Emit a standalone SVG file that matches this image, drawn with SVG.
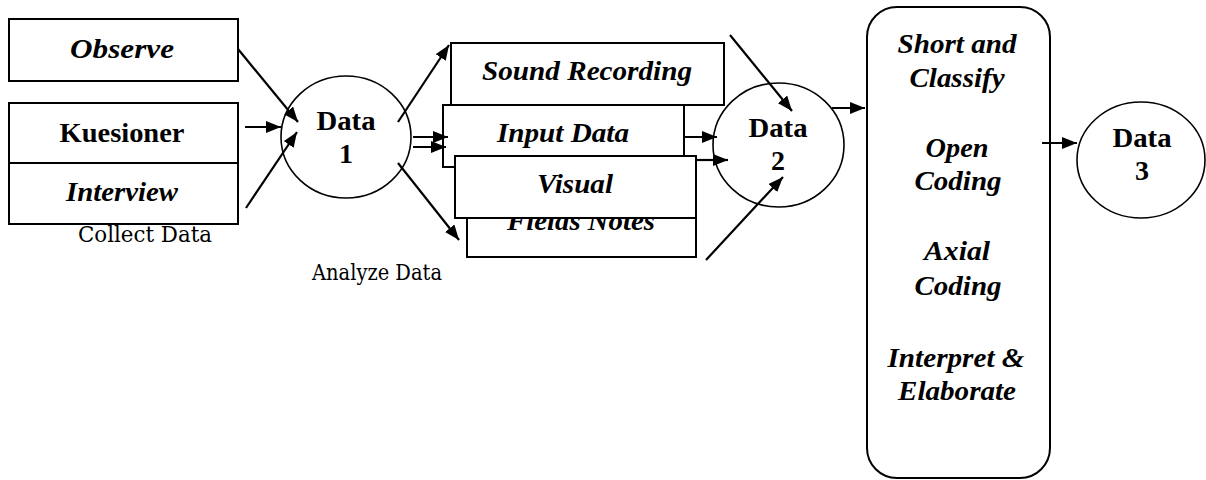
<svg xmlns="http://www.w3.org/2000/svg" width="1206" height="480" viewBox="0 0 1206 480">
  <style>
    .box { fill: #fff; stroke: #000; stroke-width: 2; }
    .circ { fill: #fff; stroke: #000; stroke-width: 1.6; }
    .t { font-family: "Liberation Serif", "Tinos", "Times New Roman", "Nimbus Roman", "FreeSerif", "Noto Serif", Times, serif; font-size: 28px; font-weight: bold; fill: #000; text-anchor: middle; }
    .i { font-style: italic; }
    .lbl { font-family: "DejaVu Serif", serif; font-size: 21.5px; fill: #000; text-anchor: middle; }
    .arr { stroke: #000; stroke-width: 2.2; fill: none; marker-end: url(#head); }
  </style>
  <defs>
    <marker id="head" markerUnits="userSpaceOnUse" markerWidth="16" markerHeight="12" refX="15" refY="6" orient="auto">
      <path d="M0,0 L15,6 L0,12 z" fill="#000"/>
    </marker>
  </defs>
  <rect width="1206" height="480" fill="#fff"/>

  <!-- collection sources -->
  <g id="observe">
    <rect class="box" x="9" y="19" width="229" height="62"/>
    <text class="t i" x="122" y="58" textLength="104" lengthAdjust="spacingAndGlyphs">Observe</text>
  </g>
  <g id="kuesioner">
    <rect class="box" x="9" y="103" width="229" height="60"/>
    <text class="t" x="122" y="142" textLength="125" lengthAdjust="spacingAndGlyphs">Kuesioner</text>
  </g>
  <g id="interview">
    <rect class="box" x="9" y="163" width="229" height="61"/>
    <text class="t i" x="122" y="201" textLength="112" lengthAdjust="spacingAndGlyphs">Interview</text>
  </g>
  <text id="collect-label" class="lbl" x="145" y="242" textLength="134" lengthAdjust="spacingAndGlyphs">Collect Data</text>

  <g id="data1">
    <ellipse class="circ" cx="346" cy="137" rx="65" ry="61"/>
    <text class="t" x="346" y="130" textLength="59" lengthAdjust="spacingAndGlyphs">Data</text>
    <text class="t" x="346" y="163">1</text>
  </g>
  <text id="analyze-label" class="lbl" x="377" y="280" textLength="130" lengthAdjust="spacingAndGlyphs">Analyze Data</text>

  <!-- analysis inputs, stacked -->
  <g id="sound-recording">
    <rect class="box" x="451" y="43" width="273" height="62"/>
    <text class="t i" x="587" y="80" textLength="210" lengthAdjust="spacingAndGlyphs">Sound Recording</text>
  </g>
  <g id="input-data">
    <rect class="box" x="443" y="105" width="241" height="62"/>
    <text class="t i" x="563" y="142" textLength="132" lengthAdjust="spacingAndGlyphs">Input Data</text>
  </g>
  <g id="fields-notes">
    <rect class="box" x="467" y="200" width="229" height="57"/>
    <text class="t i" x="581" y="230" textLength="148" lengthAdjust="spacingAndGlyphs">Fields Notes</text>
  </g>
  <g id="visual">
    <rect class="box" x="455" y="156" width="241" height="62"/>
    <text class="t i" x="575" y="193" textLength="76" lengthAdjust="spacingAndGlyphs">Visual</text>
  </g>

  <g id="data2">
    <ellipse class="circ" cx="778.5" cy="145" rx="65.5" ry="62"/>
    <text class="t" x="778" y="137" textLength="59" lengthAdjust="spacingAndGlyphs">Data</text>
    <text class="t" x="778" y="170">2</text>
  </g>

  <g id="coding">
    <rect class="box" x="867" y="7" width="183" height="471" rx="30" ry="30"/>
    <text class="t i" x="957" y="53" textLength="119" lengthAdjust="spacingAndGlyphs">Short and</text>
    <text class="t i" x="957" y="87" textLength="95" lengthAdjust="spacingAndGlyphs">Classify</text>
    <text class="t i" x="957" y="157" textLength="63" lengthAdjust="spacingAndGlyphs">Open</text>
    <text class="t i" x="958" y="190" textLength="87" lengthAdjust="spacingAndGlyphs">Coding</text>
    <text class="t i" x="957" y="260" textLength="66" lengthAdjust="spacingAndGlyphs">Axial</text>
    <text class="t i" x="958" y="295" textLength="87" lengthAdjust="spacingAndGlyphs">Coding</text>
    <text class="t i" x="956" y="367" textLength="137" lengthAdjust="spacingAndGlyphs">Interpret &amp;</text>
    <text class="t i" x="957" y="400" textLength="118" lengthAdjust="spacingAndGlyphs">Elaborate</text>
  </g>

  <g id="data3">
    <ellipse class="circ" cx="1141" cy="160" rx="64" ry="58"/>
    <text class="t" x="1142" y="147" textLength="59" lengthAdjust="spacingAndGlyphs">Data</text>
    <text class="t" x="1142" y="180">3</text>
  </g>

  <g id="connectors">
    <line class="arr" x1="238" y1="49" x2="298" y2="122"/>
    <line class="arr" x1="245" y1="127" x2="281" y2="127"/>
    <line class="arr" x1="246" y1="208" x2="297" y2="132"/>
    <line class="arr" x1="398" y1="122" x2="449" y2="45"/>
    <line class="arr" x1="413" y1="137" x2="448" y2="137"/>
    <line class="arr" x1="413" y1="147" x2="446" y2="147"/>
    <line class="arr" x1="398" y1="163" x2="459" y2="240"/>
    <line class="arr" x1="684" y1="137" x2="717" y2="137"/>
    <line class="arr" x1="696" y1="160" x2="728" y2="160"/>
    <line class="arr" x1="730" y1="35" x2="792" y2="111"/>
    <line class="arr" x1="706" y1="260" x2="783" y2="177"/>
    <line class="arr" x1="832" y1="108" x2="865" y2="108"/>
    <line class="arr" x1="1042" y1="143" x2="1077" y2="143"/>
  </g>
</svg>
